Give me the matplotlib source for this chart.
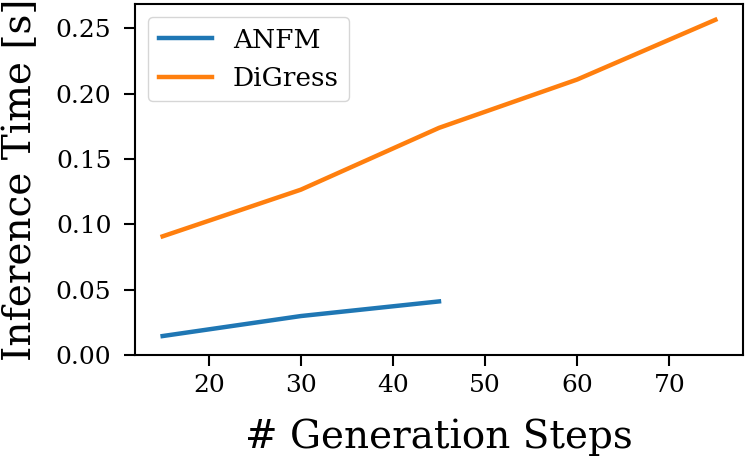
import matplotlib
matplotlib.use("Agg")
import matplotlib.pyplot as plt

steps_anfm = [15, 30, 45]
time_anfm = [0.0145, 0.0298, 0.0410]
steps_digress = [15, 30, 45, 60, 75]
time_digress = [0.0908, 0.1265, 0.1738, 0.2108, 0.2565]

plt.rcParams['font.family'] = ['DejaVu Serif']
fig = plt.figure(figsize=(7.48, 4.58), dpi=100)
ax = fig.add_axes([0.1805, 0.2249, 0.8128, 0.7664])
ax.plot(steps_anfm, time_anfm, color='#1f77b4', lw=3.2, label='ANFM')
ax.plot(steps_digress, time_digress, color='#ff7f0e', lw=3.2, label='DiGress')
ax.set_ylim(bottom=0)
ax.set_xlabel('# Generation Steps', fontsize=28, labelpad=15)
ax.set_ylabel('Inference Time [s]', fontsize=28, labelpad=12)
ax.tick_params(labelsize=18, width=1.5, length=8)
ax.tick_params(axis='x', pad=6)
ax.tick_params(axis='y', pad=9)
for s in ax.spines.values():
    s.set_linewidth(1.5)
ax.legend(fontsize=19, loc='upper left')
fig.savefig('out.png', dpi=100)
